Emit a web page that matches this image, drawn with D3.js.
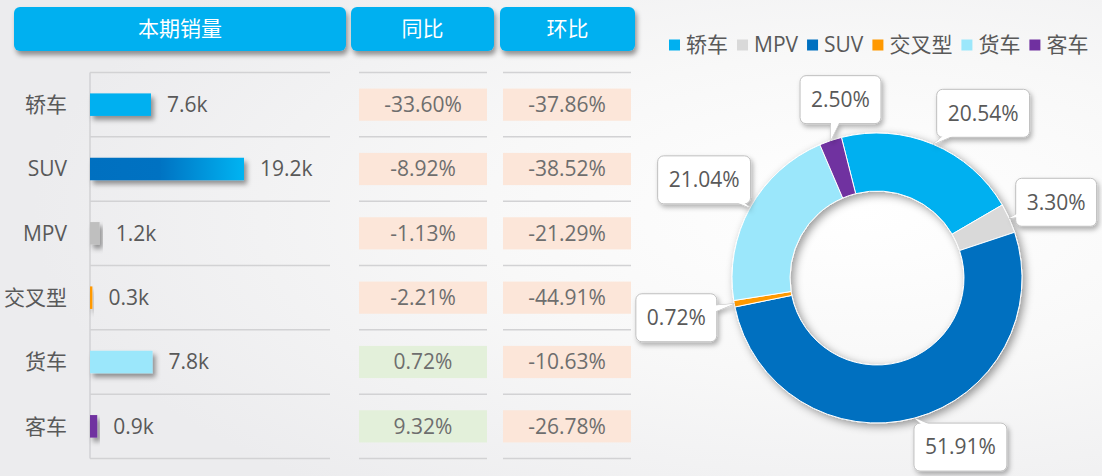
<!DOCTYPE html>
<html>
<head>
<meta charset="utf-8">
<script src="https://cdn.jsdelivr.net/npm/d3@7"></script>
<style>
body{margin:0;background:#f4f4f5;}
svg{display:block;font-family:"Open Sans","Noto Sans CJK SC",sans-serif;}
</style>
</head>
<body>
<svg id="chart" width="1102" height="476"></svg>
<script>
// table data
var categories = ['轿车', 'SUV', 'MPV', '交叉型', '货车', '客车'];
var sales = [7.6, 19.2, 1.2, 0.3, 7.8, 0.9];      // 本期销量 (k)
var yoy = [-33.60, -8.92, -1.13, -2.21, 0.72, 9.32];
var mom = [-37.86, -38.52, -21.29, -44.91, -10.63, -26.78];
var headers = ['本期销量', '同比', '环比'];

// donut data (legend order)
var pieCategories = ['轿车', 'MPV', 'SUV', '交叉型', '货车', '客车'];
var pieShares = [20.54, 3.30, 51.91, 0.72, 21.04, 2.50];

var pieColor = d3.scaleOrdinal()
  .domain(pieCategories)
  .range(['#00B0F0', '#D9D9D9', '#0070C0', '#FF9900', '#9BE7FB', '#7030A0']);
var barColor = function(c){ return c == 'MPV' ? '#BFBFBF' : pieColor(c); };

var W = 1102, H = 476;
var FS = 21;
var svg = d3.select('#chart');
var defs = svg.append('defs');

// background
var bg = defs.append('radialGradient').attr('id', 'bg')
  .attr('cx', '0.78').attr('cy', '0.45').attr('r', '0.75');
bg.append('stop').attr('offset', '0').attr('stop-color', '#ffffff');
bg.append('stop').attr('offset', '0.45').attr('stop-color', '#f8f8f8');
bg.append('stop').attr('offset', '1').attr('stop-color', '#ececee');
svg.append('rect').attr('width', W).attr('height', H).attr('fill', 'url(#bg)');

function shadow(id, dx, dy, sd, op){
  defs.append('filter').attr('id', id)
    .attr('x', '-30%').attr('y', '-30%').attr('width', '160%').attr('height', '180%')
    .append('feDropShadow')
    .attr('dx', dx).attr('dy', dy).attr('stdDeviation', sd)
    .attr('flood-color', '#000').attr('flood-opacity', op);
}
shadow('hdrShadow', 2, 4, 2.5, 0.4);
shadow('barShadow', 3, 4, 2.5, 0.4);
shadow('boxShadow', 2, 3, 2.5, 0.3);
shadow('ringShadow', 3, 3, 4, 0.4);

var suvGrad = defs.append('linearGradient').attr('id', 'suvGrad');
suvGrad.append('stop').attr('offset', '0').attr('stop-color', '#0070C0');
suvGrad.append('stop').attr('offset', '0.45').attr('stop-color', '#0072C2');
suvGrad.append('stop').attr('offset', '1').attr('stop-color', '#00B4F2');

// ---- header boxes
var cols = [[14, 346], [351, 494], [500, 635]];
var hdr = svg.append('g').selectAll('g')
  .data(headers)
  .join('g');
hdr.append('rect')
  .attr('x', (d, i) => cols[i][0])
  .attr('y', 7)
  .attr('width', (d, i) => cols[i][1] - cols[i][0])
  .attr('height', 44)
  .attr('rx', 6)
  .attr('fill', '#00B0F0')
  .attr('filter', 'url(#hdrShadow)');
hdr.append('text')
  .attr('x', (d, i) => (cols[i][0] + cols[i][1]) / 2)
  .attr('y', 29)
  .attr('dy', '0.35em')
  .attr('text-anchor', 'middle')
  .attr('fill', '#fff')
  .attr('font-size', FS)
  .text(d => d);

// ---- rows
var yScale = d3.scaleBand().domain(categories).range([72.5, 458.5]);
var step = yScale.step();
var axisX = 90;
var xScale = d3.scaleLinear().domain([0, 19.2]).range([0, 154]);

var grid = svg.append('g').attr('stroke', '#d2d2d4').attr('stroke-width', 1.5);
var lineYs = categories.map(c => yScale(c)).concat([yScale.range()[1]]);
[[axisX, 330], [359, 487], [503, 631]].forEach(function(seg){
  grid.append('g').selectAll('line')
    .data(lineYs)
    .join('line')
    .attr('x1', seg[0]).attr('x2', seg[1])
    .attr('y1', d => d).attr('y2', d => d);
});
grid.append('line')
  .attr('x1', axisX).attr('x2', axisX)
  .attr('y1', yScale.range()[0]).attr('y2', yScale.range()[1]);

var rows = svg.append('g').selectAll('g')
  .data(categories)
  .join('g')
  .attr('transform', d => `translate(0,${yScale(d) + step / 2})`);

rows.append('text')
  .attr('x', 67)
  .attr('dy', '0.35em')
  .attr('text-anchor', 'end')
  .attr('font-size', FS)
  .attr('fill', '#595959')
  .text(d => d);

var barH = step * 0.35;
rows.append('rect')
  .attr('x', axisX)
  .attr('y', -barH / 2)
  .attr('width', (d, i) => xScale(sales[i]))
  .attr('height', barH)
  .attr('fill', d => d == 'SUV' ? 'url(#suvGrad)' : barColor(d))
  .attr('filter', 'url(#barShadow)');

rows.append('text')
  .attr('x', (d, i) => axisX + xScale(sales[i]) + 16)
  .attr('dy', '0.35em')
  .attr('font-size', FS)
  .attr('fill', '#595959')
  .text((d, i) => sales[i].toFixed(1) + 'k');

var cellH = step * 0.5;
[[yoy, 359, 487], [mom, 503, 631]].forEach(function(c){
  var vals = c[0];
  rows.append('rect')
    .attr('x', c[1])
    .attr('y', -cellH / 2)
    .attr('width', c[2] - c[1])
    .attr('height', cellH)
    .attr('fill', (d, i) => vals[i] < 0 ? '#FCE6D9' : '#E3F0DA');
  rows.append('text')
    .attr('x', (c[1] + c[2]) / 2)
    .attr('dy', '0.35em')
    .attr('text-anchor', 'middle')
    .attr('font-size', FS)
    .attr('fill', '#6e6e6e')
    .text((d, i) => vals[i].toFixed(2) + '%');
});

// ---- legend
var legend = svg.append('g').attr('transform', 'translate(669,45)');
var lx = 0;
pieCategories.forEach(function(c){
  var g = legend.append('g').attr('transform', `translate(${lx},0)`);
  g.append('rect').attr('x', 0).attr('y', -5.5).attr('width', 11).attr('height', 11)
    .attr('fill', pieColor(c));
  var t = g.append('text').attr('x', 17).attr('dy', '0.35em')
    .attr('font-size', FS).attr('fill', '#595959').text(c);
  lx += 17 + t.node().getComputedTextLength() + 9;
});

// ---- donut
var cx = 877, cy = 278, R = 145, r = 87;
var start = -14.2 * Math.PI / 180;
var pie = d3.pie().sort(null).startAngle(start).endAngle(start + 2 * Math.PI);
var arcs = pie(pieShares);
var arc = d3.arc().innerRadius(r).outerRadius(R);

var donut = svg.append('g').attr('transform', `translate(${cx},${cy})`);
donut.append('g').attr('filter', 'url(#ringShadow)')
  .selectAll('path')
  .data(arcs)
  .join('path')
  .attr('d', arc)
  .attr('fill', (d, i) => pieColor(pieCategories[i]))
  .attr('stroke', '#fff')
  .attr('stroke-width', 1);

// callout labels
var labelOffsets = [[50, -31], [47, -16], [46, 29], [-58, 14], [-46, -28], [10, -41]];
var labels = donut.append('g').selectAll('g')
  .data(arcs)
  .join('g');

labels.each(function(d, i){
  var a = (d.startAngle + d.endAngle) / 2;
  var tip = [R * Math.sin(a), -R * Math.cos(a)];
  var c = [tip[0] + labelOffsets[i][0], tip[1] + labelOffsets[i][1]];
  var g = d3.select(this);
  var txt = pieShares[i].toFixed(2) + '%';

  var back = g.append('g').attr('filter', 'url(#boxShadow)');
  var front = g.append('g');
  var t = front.append('text')
    .attr('x', c[0]).attr('y', c[1]).attr('dy', '0.35em')
    .attr('text-anchor', 'middle')
    .attr('font-size', FS).attr('fill', '#595959')
    .text(txt);
  var w = t.node().getComputedTextLength() + 22, h = 48;

  var ux = tip[0] - c[0], uy = tip[1] - c[1];
  var len = Math.sqrt(ux * ux + uy * uy);
  var px = -uy / len * 9, py = ux / len * 9;
  var tail = [[c[0] + px, c[1] + py], tip, [c[0] - px, c[1] - py]];

  back.append('path').attr('d', d3.line()(tail) + 'Z')
    .attr('fill', '#fff').attr('stroke', '#bfbfbf').attr('stroke-width', 1);
  back.append('rect')
    .attr('x', c[0] - w / 2).attr('y', c[1] - h / 2)
    .attr('width', w).attr('height', h).attr('rx', 6)
    .attr('fill', '#fff').attr('stroke', '#bfbfbf').attr('stroke-width', 1);
  front.insert('path', 'text').attr('d', d3.line()(tail) + 'Z')
    .attr('fill', '#fff').attr('stroke', 'none');
});
</script>
</body>
</html>
